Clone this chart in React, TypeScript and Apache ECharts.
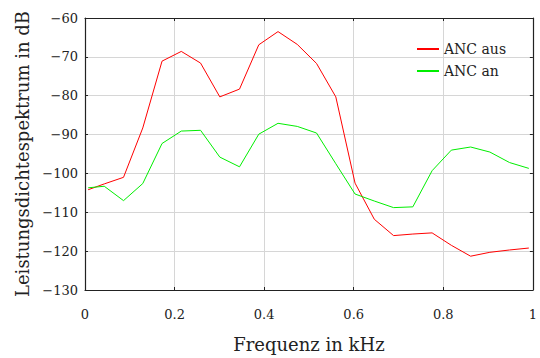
import React, { useEffect, useRef } from "react";
import * as echarts from "echarts";

const freqKHz = [0.007, 0.043, 0.086, 0.129, 0.172, 0.215, 0.258, 0.301, 0.345, 0.388, 0.431, 0.474, 0.517, 0.560, 0.603, 0.646, 0.689, 0.732, 0.775, 0.818, 0.861, 0.904, 0.948, 0.991];
const ancAus = [-104.2, -102.7, -101.0, -88.3, -71.1, -68.6, -71.6, -80.3, -78.3, -66.9, -63.5, -66.8, -71.7, -80.3, -102.5, -111.8, -116.0, -115.6, -115.3, -118.5, -121.3, -120.3, -119.7, -119.2];
const ancAn = [-103.7, -103.3, -107.0, -102.6, -92.3, -89.1, -88.9, -95.8, -98.3, -89.9, -87.1, -87.9, -89.6, -97.5, -105.3, -107.1, -108.8, -108.6, -99.3, -94.0, -93.2, -94.5, -97.2, -98.7];
const seriesNames = ["ANC aus", "ANC an"];
const xTicks = [0, 0.2, 0.4, 0.6, 0.8, 1];

const FONT = "'DejaVu Serif', serif";

export default function App() {
  const ref = useRef<HTMLDivElement>(null);
  useEffect(() => {
    if (!ref.current) return;
    const chart = echarts.init(ref.current, null, { renderer: "svg" });
    const tickStyle = { show: true, inside: true, length: 3, lineStyle: { color: "#222", width: 1 } };
    chart.setOption({
      animation: false,
      backgroundColor: "#fff",
      grid: { left: 85, right: 5, top: 18, bottom: 64 },
      legend: {
        orient: "vertical",
        left: 412,
        top: 37,
        itemWidth: 22,
        itemHeight: 2,
        itemGap: 8,
        icon: "rect",
        textStyle: { fontFamily: FONT, fontSize: 14, color: "#222" },
        data: seriesNames,
      },
      xAxis: [
        {
          type: "value",
          min: 0,
          max: 1,
          interval: 0.2,
          name: "Frequenz in kHz",
          nameLocation: "middle",
          nameGap: 45,
          nameTextStyle: { fontFamily: FONT, fontSize: 18, color: "#222" },
          axisLine: { show: true, onZero: false, lineStyle: { color: "#222", width: 1.2 } },
          axisTick: tickStyle,
          axisLabel: {
            fontFamily: FONT,
            fontSize: 13,
            color: "#222",
            margin: 18,
            formatter: (v: number) => (xTicks.includes(Math.round(v * 10) / 10) ? String(Math.round(v * 10) / 10) : ""),
          },
          splitLine: { show: true, lineStyle: { color: "#d6d6d6", width: 1 } },
        },
        {
          type: "value",
          position: "top",
          min: 0,
          max: 1,
          interval: 0.2,
          axisLine: { show: true, onZero: false, lineStyle: { color: "#222", width: 1.2 } },
          axisTick: tickStyle,
          axisLabel: { show: false },
          splitLine: { show: false },
        },
      ],
      yAxis: [
        {
          type: "value",
          min: -130,
          max: -60,
          interval: 10,
          name: "Leistungsdichtespektrum in dB",
          nameLocation: "middle",
          nameGap: 53,
          nameTextStyle: { fontFamily: FONT, fontSize: 18, color: "#222" },
          axisLine: { show: true, onZero: false, lineStyle: { color: "#222", width: 1.2 } },
          axisTick: tickStyle,
          axisLabel: {
            fontFamily: FONT,
            fontSize: 13,
            color: "#222",
            margin: 7,
            formatter: (v: number) => String(v).replace("-", "\u2212"),
          },
          splitLine: { show: true, lineStyle: { color: "#d6d6d6", width: 1 } },
        },
        {
          type: "value",
          position: "right",
          min: -130,
          max: -60,
          interval: 10,
          axisLine: { show: true, onZero: false, lineStyle: { color: "#222", width: 1.2 } },
          axisTick: tickStyle,
          axisLabel: { show: false },
          splitLine: { show: false },
        },
      ],
      series: [
        {
          name: seriesNames[0],
          type: "line",
          data: freqKHz.map((f, i) => [f, ancAus[i]]),
          showSymbol: false,
          lineStyle: { color: "#ff0000", width: 1 },
          itemStyle: { color: "#ff0000" },
        },
        {
          name: seriesNames[1],
          type: "line",
          data: freqKHz.map((f, i) => [f, ancAn[i]]),
          showSymbol: false,
          lineStyle: { color: "#00ee00", width: 1 },
          itemStyle: { color: "#00ee00" },
        },
      ],
    });
    return () => chart.dispose();
  }, []);
  return <div ref={ref} style={{ width: 540, height: 358, position: "absolute", left: 0, top: 0 }} />;
}
